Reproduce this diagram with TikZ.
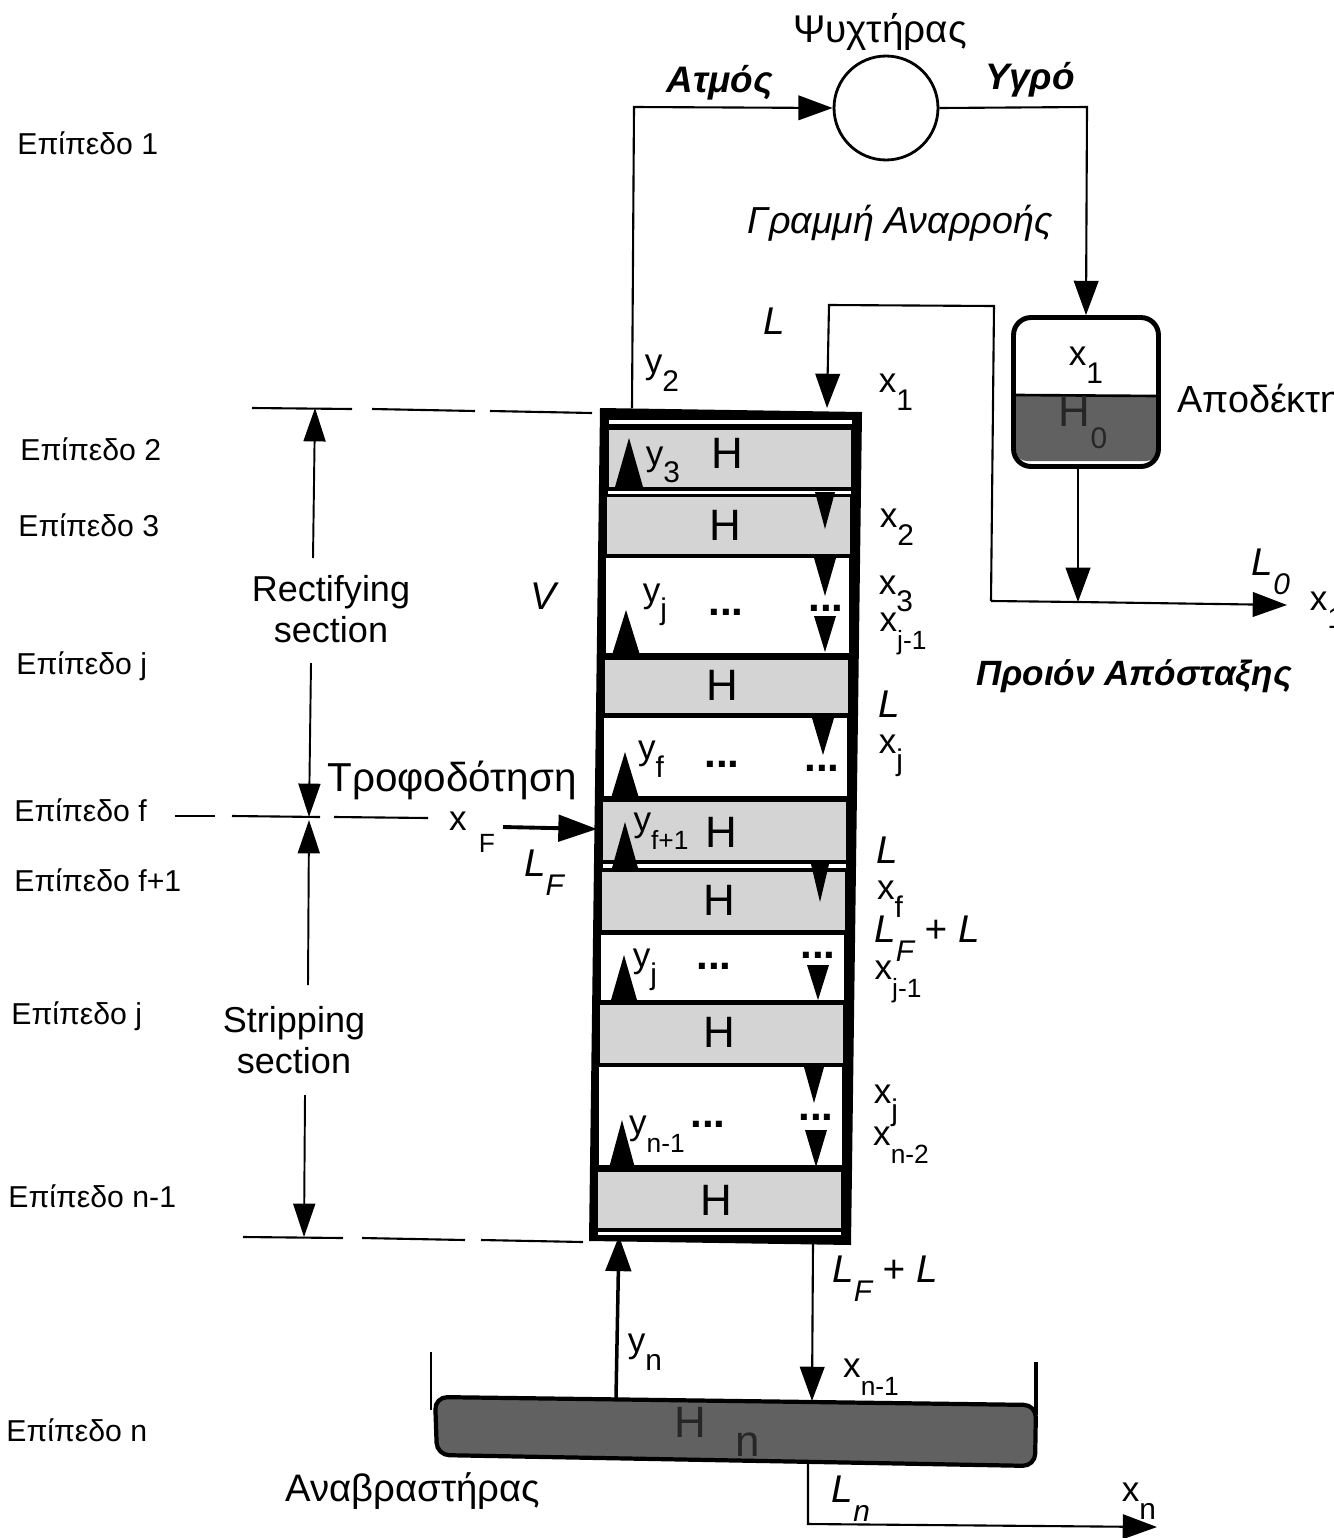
\documentclass[tikz,border=0pt]{standalone}
\usepackage{fontspec}
\setmainfont{Liberation Sans}
\usetikzlibrary{arrows.meta}
\newcommand{\idx}[3][17]{#2\raisebox{-0.5em}{\fontsize{#1}{#1}\selectfont #3}}

\begin{document}
\begin{tikzpicture}[x=0.02cm, y=-0.02cm,
    every node/.style={inner sep=0pt, font=\fontsize{20}{24}\selectfont},
    level/.style={anchor=west, font=\fontsize{17.2}{20}\selectfont},
    heavy/.style={font=\fontsize{25}{28}\selectfont},
    emph/.style={font=\fontsize{22}{24}\itshape\selectfont},
    strong/.style={font=\fontsize{21}{24}\bfseries\itshape\selectfont},
    dots/.style={font=\fontsize{24}{24}\bfseries\selectfont},
    pipe/.style={line width=1.2pt},
    flow/.style={pipe, -{Triangle[length=19.5pt, width=14pt]}},
    bigflow/.style={line width=2pt, -{Triangle[length=20pt, width=14.5pt]}},
    dim/.style={line width=1.1pt, -{Triangle[length=19pt, width=12.5pt]}},
    tray/.style={fill=black!17},
    room/.style={fill=white},
    tip/.style={fill=black}]
    \useasboundingbox (0,0) rectangle (1334,1538);
    \clip (0,0) rectangle (1334,1538);

    % Column shell and its plates
    \fill (600,408) -- (862,412) -- (851,1245) -- (589,1241) -- cycle;
    \fill[room] (609,420) rectangle (852,424);
    \fill[tray] (609,430) rectangle (851,487);
    \fill[room] (608,491) rectangle (851,494);
    \fill[tray] (607,497) rectangle (850,554);
    \fill[room] (606,558) rectangle (849,653);
    \fill[tray] (605,660) rectangle (848,713);
    \fill[room] (604,718) rectangle (847,796);
    \fill[tray] (603,802) rectangle (846,860);
    \fill[room] (603,864) rectangle (846,868);
    \fill[tray] (602,872) rectangle (845,930);
    \fill[room] (601,935) rectangle (844,1000);
    \fill[tray] (600,1005) rectangle (843,1063);
    \fill[room] (599,1067) rectangle (842,1165);
    \fill[tray] (598,1172) rectangle (841,1228);
    \fill[room] (598,1232) rectangle (841,1235);

    % Triangles inside the column
    \fill[tip] (615,487) -- (629,438) -- (643,487) -- cycle;
    \fill[tip] (612,655) -- (626,610) -- (640,655) -- cycle;
    \fill[tip] (611,798) -- (625,752) -- (639,798) -- cycle;
    \fill[tip] (612,868) -- (625,822) -- (638,868) -- cycle;
    \fill[tip] (611,1000) -- (624,955) -- (637,1000) -- cycle;
    \fill[tip] (609,1168) -- (622,1120) -- (635,1168) -- cycle;
    \fill[tip] (815,492) -- (825,529) -- (835,492) -- cycle;
    \fill[tip] (814,558) -- (825,596) -- (836,558) -- cycle;
    \fill[tip] (814,616) -- (825,652) -- (836,616) -- cycle;
    \fill[tip] (812,718) -- (823,755) -- (834,718) -- cycle;
    \fill[tip] (810,860) -- (820,902) -- (830,860) -- cycle;
    \fill[tip] (807,965) -- (818,1000) -- (829,965) -- cycle;
    \fill[tip] (804,1067) -- (814,1103) -- (824,1067) -- cycle;
    \fill[tip] (805,1130) -- (816,1167) -- (827,1130) -- cycle;

    % Condenser and receiver
    \node[circle, draw, line width=1.6pt, minimum size=2.08cm] (cond) at (886,108) {};
    \fill[black!62, rounded corners=6pt] (1016,396) [sharp corners] -- (1157,396) [rounded corners=6pt] -- (1157,461) -- (1016,461) [sharp corners] -- cycle;
    \node[draw, line width=2.8pt, rounded corners=10pt, minimum width=2.9cm, minimum height=2.98cm] (tank) at (1086,392) {};
    \coordinate (lvlA) at (1016,395);
    \coordinate (lvlB) at (1157,396);
    \draw[line width=1.5pt] (lvlA) -- (lvlB);

    % Reboiler
    \draw[line width=2.4pt, fill=black!62, rounded corners=7pt] (435,1397) -- (1036,1405) -- (1035,1466) -- (437,1455) -- cycle;
    \coordinate (wallA) at (431,1352);
    \coordinate (wallB) at (431,1410);
    \coordinate (wallC) at (1036,1362);
    \coordinate (wallD) at (1036,1415);
    \draw[line width=1.6pt] (wallA) -- (wallB);
    \draw[line width=1.8pt] (wallC) -- (wallD);

    % Junction points of the pipes
    \coordinate (topA) at (632,408);
    \coordinate (topB) at (634,107);
    \coordinate (outA) at (1087,107);
    \coordinate (retA) at (991,601);
    \coordinate (retB) at (994,306);
    \coordinate (retC) at (829,305);
    \coordinate (retD) at (827,408);
    \coordinate (joinA) at (1078,602);
    \coordinate (prodA) at (1287,605);
    \coordinate (yA) at (616,1398);
    \coordinate (yB) at (619,1236);
    \coordinate (xA) at (813,1243);
    \coordinate (xB) at (812,1401);
    \coordinate (botA) at (808,1462);
    \coordinate (botB) at (808,1524);
    \coordinate (botC) at (1157,1527);

    % Pipes
    \draw[flow] (topA) -- (topB) -- (cond.west);
    \draw[flow] (cond.east) -- (outA) -- (tank.north);
    \draw[flow] (retA) -- (retB) -- (retC) -- (retD);
    \draw[pipe] (retA) -- (joinA);
    \draw[flow] (tank.south -| joinA) -- (joinA);
    \draw[flow] (joinA) -- (prodA);
    \draw[bigflow] (yA) -- (yB);
    \draw[flow] (xA) -- (xB);
    \draw[flow] (botA) -- (botB) -- (botC);

    % Section limits (long dashes)
    \coordinate (limA) at (252,408);
    \coordinate (limB) at (352,409);
    \coordinate (limC) at (372,409);
    \coordinate (limD) at (475,411);
    \coordinate (limE) at (490,411);
    \coordinate (limF) at (592,413);
    \draw[pipe] (limA) -- (limB);
    \draw[pipe] (limC) -- (limD);
    \draw[pipe] (limE) -- (limF);
    \coordinate (midA) at (175,816);
    \coordinate (midB) at (215,816);
    \coordinate (midC) at (232,816);
    \coordinate (midD) at (320,817);
    \coordinate (midE) at (334,817);
    \coordinate (midF) at (428,818);
    \draw[pipe] (midA) -- (midB);
    \draw[pipe] (midC) -- (midD);
    \draw[pipe] (midE) -- (midF);
    \coordinate (lowA) at (243,1237);
    \coordinate (lowB) at (343,1238);
    \coordinate (lowC) at (362,1238);
    \coordinate (lowD) at (465,1240);
    \coordinate (lowE) at (481,1240);
    \coordinate (lowF) at (583,1242);
    \draw[pipe] (lowA) -- (lowB);
    \draw[pipe] (lowC) -- (lowD);
    \draw[pipe] (lowE) -- (lowF);

    % Section arrows
    \node[font=\fontsize{20.5}{23}\selectfont, align=center] (rect) at (331,609) {Rectifying\\section};
    \node[font=\fontsize{20.5}{23}\selectfont, align=center] (strip) at (294,1040) {Stripping\\section};
    \coordinate (rectA) at (313,558);
    \coordinate (rectB) at (315,408);
    \coordinate (rectC) at (311,663);
    \coordinate (rectD) at (309,817);
    \coordinate (stripA) at (308,985);
    \coordinate (stripB) at (309,820);
    \coordinate (stripC) at (305,1095);
    \coordinate (stripD) at (304,1237);
    \draw[dim] (rectA) -- (rectB);
    \draw[dim] (rectC) -- (rectD);
    \draw[dim] (stripA) -- (stripB);
    \draw[dim] (stripC) -- (stripD);

    % Feed
    \node[font=\fontsize{23}{26}\selectfont] (feed) at (452,780) {Τροφοδότηση};
    \node (xF) at (458,821) {x};
    \node[font=\fontsize{15}{18}\selectfont] (F) at (487,843) {F};
    \coordinate (feedA) at (503,827);
    \coordinate (feedB) at (597,829);
    \draw[line width=2.2pt, -{Triangle[length=22pt, width=15pt]}] (feedA) -- (feedB);
    \node[emph] (LF) at (544,873) {\idx{L}{F}};

    % Level labels
    \node[level] (lev1) at (17,143) {Επίπεδο 1};
    \node[level] (lev2) at (20,449) {Επίπεδο 2};
    \node[level] (lev3) at (18,525) {Επίπεδο 3};
    \node[level] (levj) at (16,666) {Επίπεδο j};
    \node[level] (levf) at (14,810) {Επίπεδο f};
    \node[level] (levg) at (14,880) {Επίπεδο f+1};
    \node[level] (levk) at (11,1016) {Επίπεδο j};
    \node[level] (levm) at (8,1196) {Επίπεδο n-1};
    \node[level] (levn) at (6,1430) {Επίπεδο n};

    % Top labels
    \node[font=\fontsize{22}{24}\selectfont] (condlab) at (880,32) {Ψυχτήρας};
    \node[strong] (steam) at (720,83) {Ατμός};
    \node[strong] (liq) at (1030,80) {Υγρό};
    \node[font=\fontsize{21.4}{24}\itshape\selectfont] (refl) at (900,223) {Γραμμή Αναρροής};
    \node[anchor=west, font=\fontsize{21.5}{24}\selectfont] (recv) at (1177,402) {Αποδέκτης};
    \node[strong, font=\fontsize{20}{24}\bfseries\itshape\selectfont] (prod) at (1134,676) {Προιόν Απόσταξης};
    \node[emph] (L1) at (774,321) {L};
    \node (y2) at (662,373) {\idx{y}{2}};
    \node (x1) at (896,392) {\idx{x}{1}};
    \node (x1t) at (1086,365) {\idx{x}{1}};
    \node[heavy, text=black!85] (H0) at (1083,423) {\idx{H}{0}};
    \node[emph] (L0) at (1271,572) {\idx{L}{0}};
    \node (x1p) at (1327,610) {\idx{x}{1}};
    \node[emph] (V) at (543,596) {V};

    % Labels on the column, top part
    \node (y3) at (663,465) {\idx{y}{3}};
    \node[heavy] (H1) at (727,453) {H};
    \node[heavy] (H2) at (725,525) {H};
    \node (x2) at (897,527) {\idx{x}{2}};
    \node (yj) at (655,605) {\idx{y}{j}};
    \node[dots] (d1) at (726,612) {...};
    \node[dots] (d2) at (826,608) {...};
    \node (x3) at (896,594) {\idx{x}{3}};
    \node (xj1) at (903,634) {\idx[15]{x}{j-1}};
    \node[heavy] (H3) at (722,685) {H};
    \node[emph] (L2) at (889,704) {L};
    \node (xj) at (891,756) {\idx{x}{j}};
    \node (yf) at (651,759) {\idx{y}{f}};
    \node[dots] (d3) at (722,764) {...};
    \node[dots] (d4) at (822,768) {...};
    \node (yf1) at (661,831) {\idx[15]{y}{f+1}};
    \node[heavy] (H4) at (721,832) {H};
    \node[emph] (L3) at (887,850) {L};

    % Labels on the column, lower part
    \node[heavy] (H5) at (719,900) {H};
    \node (xf) at (890,899) {\idx{x}{f}};
    \node[emph] (LFa) at (927,939) {\idx{L}{F} + L};
    \node (yj2) at (645,970) {\idx{y}{j}};
    \node[dots] (d5) at (714,966) {...};
    \node[dots] (d6) at (818,955) {...};
    \node (xj2) at (898,982) {\idx[15]{x}{j-1}};
    \node[heavy] (H6) at (719,1032) {H};
    \node (xj3) at (886,1106) {\idx{x}{j}};
    \node (xn2) at (901,1145) {\idx[15]{x}{n-2}};
    \node (yn1) at (657,1134) {\idx[15]{y}{n-1}};
    \node[dots] (d7) at (708,1124) {...};
    \node[dots] (d8) at (816,1117) {...};
    \node[heavy] (H7) at (716,1200) {H};

    % Bottom labels
    \node[emph] (LFb) at (885,1279) {\idx{L}{F} + L};
    \node (yn) at (645,1352) {\idx{y}{n}};
    \node (xn1) at (871,1377) {\idx[15]{x}{n-1}};
    \node[heavy, text=black!85] (Hn) at (690,1422) {H};
    \node[heavy, text=black!85] (nn) at (748,1445) {n};
    \node[font=\fontsize{21.8}{24}\selectfont] (reb) at (413,1491) {Αναβραστήρας};
    \node[emph] (Ln) at (851,1499) {\idx{L}{n}};
    \node (xn) at (1139,1501) {\idx{x}{n}};
\end{tikzpicture}
\end{document}
